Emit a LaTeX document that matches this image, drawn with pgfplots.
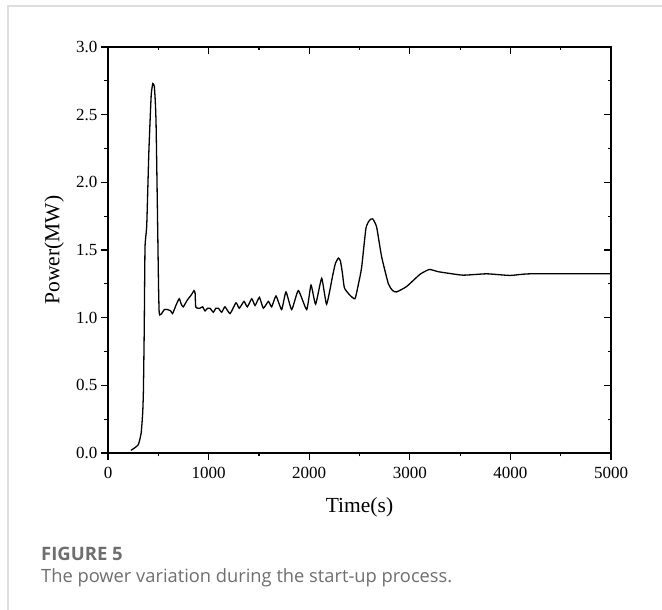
\documentclass[border=0pt]{standalone}
\usepackage{fontspec}
\setmainfont{Liberation Serif}
\newfontfamily\capfont{Open Sans}
\usepackage{pgfplots}
\pgfplotsset{compat=1.18}
\definecolor{capgray}{RGB}{110,110,110}
\definecolor{framegray}{RGB}{222,222,222}

\pgfplotstableread{
x y
229 0.02
300 0.06
330 0.15
345 0.30
352 0.46
360 0.90
368 1.52
385 1.68
405 2.20
418 2.45
430 2.65
445 2.73
460 2.71
470 2.60
478 2.43
490 1.86
502 1.25
508 1.05
515 1.02
533 1.03
560 1.06
590 1.06
623 1.05
642 1.03
675 1.09
708 1.14
728 1.10
748 1.08
788 1.13
830 1.17
855 1.20
866 1.18
872 1.08
895 1.07
914 1.07
941 1.08
964 1.05
990 1.07
1014 1.07
1047 1.04
1072 1.07
1097 1.07
1130 1.04
1163 1.08
1213 1.03
1272 1.11
1305 1.07
1352 1.12
1385 1.08
1429 1.14
1462 1.09
1505 1.15
1544 1.07
1594 1.12
1627 1.08
1670 1.16
1726 1.06
1769 1.19
1826 1.06
1892 1.20
1975 1.06
2018 1.24
2064 1.10
2124 1.29
2173 1.10
2233 1.31
2260 1.40
2290 1.44
2310 1.42
2330 1.33
2350 1.22
2400 1.17
2455 1.14
2490 1.25
2521 1.37
2564 1.66
2600 1.72
2631 1.73
2670 1.67
2720 1.45
2787 1.25
2830 1.20
2869 1.19
2968 1.23
3101 1.32
3194 1.356
3280 1.34
3366 1.33
3532 1.314
3764 1.324
3996 1.312
4200 1.324
5000 1.324
}\powerdata

\pgfplotsset{
  mystyle/.style={
    scale only axis, width=503pt, height=406pt,
    xmin=0, xmax=5000, ymin=0, ymax=3,
    xtick={0,1000,2000,3000,4000,5000},
    ytick={0,0.5,1,1.5,2,2.5,3},
    minor x tick num=1, minor y tick num=1,
    major tick length=7pt, minor tick length=3.5pt,
    axis line style={line width=1.5pt},
    every tick/.style={black, line width=1.2pt},
  }
}

\begin{document}
\begin{tikzpicture}[x=1pt,y=1pt]
\useasboundingbox (0,0) rectangle (662,610);
\draw[framegray, line width=1.6pt] (662,604) -- (8,604) -- (8,0);

\begin{axis}[mystyle,
  at={(108pt,157pt)}, anchor=south west,
  tick align=outside, xtick pos=left, ytick pos=left,
  /pgf/number format/assume math mode=true,
  /pgf/number format/1000 sep={},
  yticklabel style={/pgf/number format/fixed, /pgf/number format/fixed zerofill, /pgf/number format/precision=1},
  tick label style={font=\fontsize{17}{17}\selectfont},
  xticklabel style={yshift=-3.5pt},
  label style={font=\fontsize{21.5}{21.5}\selectfont},
  xlabel={Time(s)},
  ylabel={Power(MW)},
  xlabel style={at={(axis description cs:0.5,-0.133)}, anchor=center},
  ylabel style={at={(axis description cs:-0.107,0.5)}, anchor=center},
]
\addplot[black, line width=1.3pt, smooth, tension=0.3] table[x=x, y=y] {\powerdata};
\end{axis}

\begin{axis}[mystyle,
  at={(108pt,157pt)}, anchor=south west,
  tick align=inside, xtick pos=right, ytick pos=right,
  xticklabels={}, yticklabels={},
]
\end{axis}

\node[anchor=base west, inner sep=0pt, text=capgray, font=\capfont\bfseries\fontsize{18.5}{20}\selectfont] at (41,49) {FIGURE 5};
\node[anchor=base west, inner sep=0pt, text=capgray, font=\capfont\fontsize{18.3}{20}\selectfont] at (41,27) {The power variation during the start-up process.};
\end{tikzpicture}
\end{document}
